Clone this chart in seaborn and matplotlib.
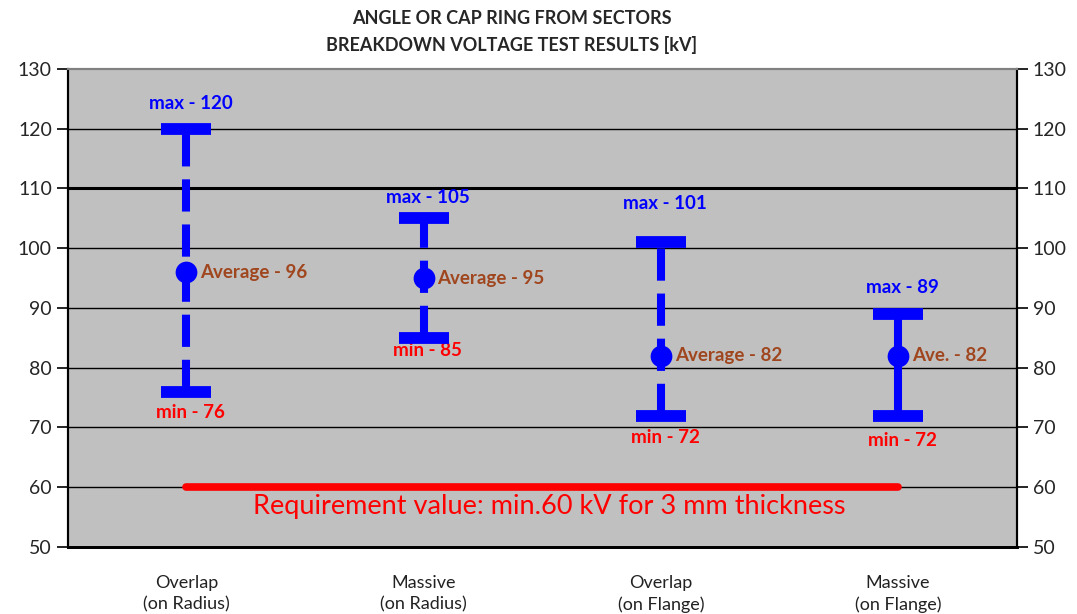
import matplotlib
matplotlib.use("Agg")
import matplotlib.pyplot as plt
import seaborn as sns

# data
categories = ["Overlap\n(on Radius)", "Massive\n(on Radius)", "Overlap\n(on Flange)", "Massive\n(on Flange)"]
max_vals = [120, 105, 101, 89]
min_vals = [76, 85, 72, 72]
avg_vals = [96, 95, 82, 82]
avg_names = ["Average", "Average", "Average", "Ave."]
requirement = 60
req_text = "Requirement value: min.60 kV for 3 mm thickness"
yticks = [50, 60, 70, 80, 90, 100, 110, 120, 130]

# label offsets (points)
max_off = [18, 15, 28, 19]
min_off = [-15, -9, -16, -18]
bar_styles = [(0, (4, 1.6)), (0, (4, 1.6)), (0, (4, 1.6)), "-"]

sns.set_style("white")
plt.rcParams["font.family"] = ["Lato", "DejaVu Sans"]

fig = plt.figure(figsize=(10.77, 6.14), dpi=100)
ax = fig.add_axes([0.063, 0.109, 0.881, 0.779])
ax.set_facecolor("#c0c0c0")

xpos = [i + 0.5 for i in range(len(categories))]

# grid
for v in yticks[1:-1]:
    ax.axhline(v, color="black", lw=2.2 if v == 110 else 1.0, zorder=1)

# requirement line
ax.plot([xpos[0], xpos[-1]], [requirement, requirement], color="red", lw=5.5,
        solid_capstyle="round", zorder=2)
ax.text((xpos[0] + xpos[-1]) / 2 + 0.03, requirement - 3.2, req_text, color="red",
        fontsize=19.5, ha="center", va="center", zorder=3)

# min-max bars
for x, lo, hi, ls in zip(xpos, min_vals, max_vals, bar_styles):
    ax.plot([x, x], [lo, hi], color="blue", lw=5.8, linestyle=ls, zorder=3)
ax.plot(xpos, max_vals, linestyle="none", marker="_", markersize=36, mew=8.5,
        color="blue", zorder=4)
ax.plot(xpos, min_vals, linestyle="none", marker="_", markersize=36, mew=8.5,
        color="blue", zorder=4)

# averages
sns.scatterplot(x=xpos, y=avg_vals, s=210, color="blue", edgecolor="blue",
                zorder=5, ax=ax, legend=False)

for x, hi, lo, av, nm, mo, no in zip(xpos, max_vals, min_vals, avg_vals, avg_names, max_off, min_off):
    ax.annotate(f"max - {hi}", (x, hi), xytext=(3, mo), textcoords="offset points",
                ha="center", va="center", color="blue", fontsize=13.5, fontweight="bold")
    ax.annotate(f"min - {lo}", (x, lo), xytext=(3, no), textcoords="offset points",
                ha="center", va="center", color="red", fontsize=13.5, fontweight="bold")
    ax.annotate(f"{nm} - {av}", (x, av), xytext=(10, 0), textcoords="offset points",
                ha="left", va="center", color="#a0461e", fontsize=13.5, fontweight="bold")

ax.set_xlim(0, len(categories))
ax.set_ylim(50, 130)
ax.set_yticks(yticks)
ax.set_xticks(range(len(categories) + 1))
ax.set_xticklabels([])
ax.set_xticks(xpos, minor=True)
ax.set_xticklabels(categories, minor=True, fontsize=13, color="#222222", linespacing=1.4)
ax.tick_params(axis="x", which="minor", length=0, pad=20)
ax.tick_params(axis="x", which="major", direction="inout", length=10, width=1.2, color="black")
ax.tick_params(axis="y", direction="out", length=8, width=1.2, color="black",
               labelsize=14, left=True)

ax2 = ax.twinx()
ax2.set_ylim(50, 130)
ax2.set_yticks(yticks)
ax2.tick_params(axis="y", direction="out", length=8, width=1.2, color="black", labelsize=14)

for a in (ax, ax2):
    a.spines["top"].set_color("#808080")
    a.spines["top"].set_linewidth(1.5)
    a.spines["left"].set_color("black")
    a.spines["left"].set_linewidth(1.5)
    a.spines["right"].set_color("black")
    a.spines["right"].set_linewidth(1.5)
    a.spines["bottom"].set_color("black")
    a.spines["bottom"].set_linewidth(2)

fig.text(0.475, 0.97, "ANGLE OR CAP RING FROM SECTORS", ha="center", va="center",
         fontsize=13, fontweight="bold")
fig.text(0.475, 0.927, "BREAKDOWN VOLTAGE TEST RESULTS [kV]", ha="center", va="center",
         fontsize=13, fontweight="bold")

fig.savefig("out.png", dpi=100)
